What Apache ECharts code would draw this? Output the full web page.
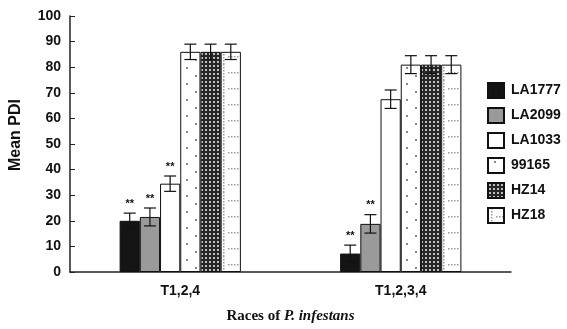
<!DOCTYPE html>
<html><head><meta charset="utf-8">
<script src="https://cdn.jsdelivr.net/npm/echarts@6/dist/echarts.min.js"></script>
<style>html,body{margin:0;padding:0;background:#fff}#c{width:567px;height:329px}</style>
</head><body><div id="c"></div>
<script>
// ---- data ----
const categories = ['T1,2,4', 'T1,2,3,4'];
const seriesNames = ['LA1777', 'LA2099', 'LA1033', '99165', 'HZ14', 'HZ18'];
const LA1777 = [20, 7.2];
const LA2099 = [21.5, 18.8];
const LA1033 = [34.5, 67.5];
const S99165 = [86, 81];
const HZ14 = [86, 81];
const HZ18 = [86, 81];
const errLA1777 = [3, 3.3];
const errLA2099 = [3.5, 3.6];
const errLA1033 = [3, 3.6];
const err99165 = [3, 3.5];
const errHZ14 = [3, 3.5];
const errHZ18 = [3, 3.5];
const starsLA1777 = ['**', '**'];
const starsLA2099 = ['**', '**'];
const starsLA1033 = ['**', ''];
const stars99165 = ['', ''];
const starsHZ14 = ['', ''];
const starsHZ18 = ['', ''];
const yTicks = [0, 10, 20, 30, 40, 50, 60, 70, 80, 90, 100];

const values = [LA1777, LA2099, LA1033, S99165, HZ14, HZ18];
const errors = [errLA1777, errLA2099, errLA1033, err99165, errHZ14, errHZ18];
const stars = [starsLA1777, starsLA2099, starsLA1033, stars99165, starsHZ14, starsHZ18];

// ---- patterns ----
function pat(w, h, draw) {
  const c = document.createElement('canvas'); c.width = w; c.height = h;
  const g = c.getContext('2d'); draw(g); return c;
}
const p99165 = pat(20, 16, g => {
  g.fillStyle = '#fff'; g.fillRect(0, 0, 20, 16);
  g.fillStyle = '#888'; g.fillRect(6, 3, 2, 2); g.fillRect(15, 11, 2, 2);
});
const pHZ14 = pat(4, 4, g => {
  g.fillStyle = '#262626'; g.fillRect(0, 0, 4, 4);
  g.fillStyle = '#bdbdbd'; g.fillRect(1, 1, 2, 2);
});
const pHZ18 = pat(20, 16, g => {
  g.fillStyle = '#fff'; g.fillRect(0, 0, 20, 16);
  g.fillStyle = '#999';
  for (let y = 0; y < 16; y += 3) g.fillRect(3, y, 1.5, 1.5);
  for (let x = 8; x < 20; x += 3) g.fillRect(x, 8, 1.5, 1.5);
});

const fills = ['#141414', '#9a9a9a', '#ffffff',
  { image: p99165, repeat: 'repeat' },
  { image: pHZ14, repeat: 'repeat' },
  { image: pHZ18, repeat: 'repeat' }];

const GAP = 0.45;
const series = [];
seriesNames.forEach((n, k) => {
  series.push({
    name: n, type: 'bar', data: values[k],
    barGap: '0%', barCategoryGap: (GAP * 100) + '%',
    itemStyle: { color: fills[k], borderColor: '#111', borderWidth: 1 },
    emphasis: { disabled: true }, silent: true
  });
});
seriesNames.forEach((n, k) => {
  series.push({
    type: 'custom', silent: true, z: 5,
    data: values[k].map((v, i) => [i, v, errors[k][i]]),
    encode: { x: 0, y: 1 },
    renderItem: function (params, api) {
      const ci = api.value(0), v = api.value(1), e = api.value(2);
      const c = api.coord([ci, v]);
      const bw = api.size([1, 0])[0] * (1 - GAP) / 6;
      const x = c[0] + (k - 2.5) * bw;
      const top = api.coord([ci, v + e])[1];
      const bot = api.coord([ci, v - e])[1];
      const st = { stroke: '#111', lineWidth: 1.2 };
      const ch = [
        { type: 'line', shape: { x1: x, y1: top, x2: x, y2: bot }, style: st },
        { type: 'line', shape: { x1: x - 6, y1: top, x2: x + 6, y2: top }, style: st },
        { type: 'line', shape: { x1: x - 6, y1: bot, x2: x + 6, y2: bot }, style: st }
      ];
      const s = stars[k][params.dataIndex];
      if (s) ch.push({ type: 'text', style: { text: s, x: x, y: top - 4, align: 'center', verticalAlign: 'bottom',
        font: 'bold 11px "Liberation Sans", Arial, sans-serif', fill: '#111' } });
      return { type: 'group', children: ch };
    }
  });
});

const chart = echarts.init(document.getElementById('c'), null, { renderer: 'canvas' });
chart.setOption({
  animation: false,
  backgroundColor: '#fff',
  grid: { left: 69, right: 56, top: 16, bottom: 51 },
  legend: {
    data: seriesNames, orient: 'vertical', left: 482, top: 77,
    itemWidth: 16, itemHeight: 15, itemGap: 8, icon: 'rect',
    selectedMode: false,
    textStyle: { fontFamily: '"Liberation Sans", Arial, sans-serif', fontWeight: 'bold', fontSize: 14, color: '#111', padding: [0, 0, 0, 2] }
  },
  xAxis: {
    type: 'category', data: categories,
    axisLine: { lineStyle: { color: '#222', width: 1.5 } },
    axisTick: { inside: true, length: 4, lineStyle: { color: '#222' } },
    axisLabel: { fontFamily: '"Liberation Sans", Arial, sans-serif', fontWeight: 'bold', fontSize: 14, color: '#111', margin: 12 },
    name: 'Races of {i|P. infestans}', nameLocation: 'middle', nameGap: 37,
    nameTextStyle: { fontFamily: '"Liberation Serif", "Times New Roman", serif', fontWeight: 'bold', fontSize: 15, color: '#111',
      rich: { i: { fontFamily: '"Liberation Serif", "Times New Roman", serif', fontWeight: 'bold', fontStyle: 'italic', fontSize: 15, color: '#111' } } }
  },
  yAxis: {
    type: 'value', min: yTicks[0], max: yTicks[yTicks.length - 1], interval: 10,
    axisLine: { show: true, lineStyle: { color: '#222', width: 1.5 } },
    axisTick: { show: true, inside: true, length: 5, lineStyle: { color: '#222' } },
    splitLine: { show: false },
    axisLabel: { fontFamily: '"Liberation Sans", Arial, sans-serif', fontWeight: 'bold', fontSize: 14, color: '#111', margin: 9 },
    name: 'Mean PDI', nameLocation: 'middle', nameGap: 46,
    nameTextStyle: { fontFamily: '"Liberation Sans", Arial, sans-serif', fontWeight: 'bold', fontSize: 16, color: '#111', padding: [0, 0, 0, 18] }
  },
  series: series
});
</script></body></html>
